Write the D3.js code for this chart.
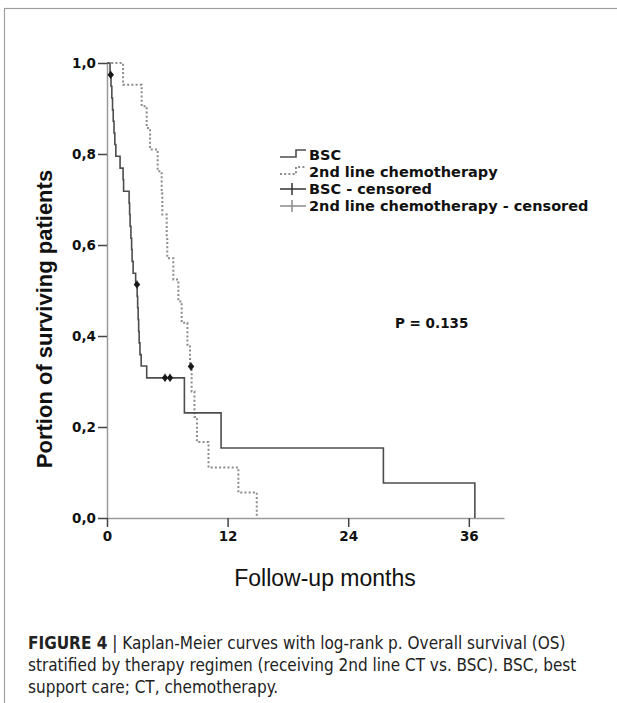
<!DOCTYPE html>
<html>
<head>
<meta charset="utf-8">
<script src="https://cdn.jsdelivr.net/npm/d3@7"></script>
<style>
  body { margin: 0; background: #fff; }
  svg { display: block; }
</style>
</head>
<body>
<svg id="km" width="617" height="703"></svg>
<script>
// Kaplan-Meier steps (months, survival)
var bscTime = [0, 0.3, 0.4, 0.48, 0.55, 0.62, 0.7, 0.78, 0.88, 1.3, 1.6, 1.65, 2.2, 2.25, 2.3, 2.38, 2.45, 2.5, 2.6, 2.85,
               3.0, 3.05, 3.1, 3.15, 3.2, 3.28, 3.4, 3.95, 7.7, 11.35, 27.5, 36.6];
var bscSurv = [1.0, 0.974, 0.949, 0.923, 0.897, 0.872, 0.846, 0.821, 0.795, 0.769, 0.744, 0.718, 0.692, 0.667, 0.641, 0.615, 0.590, 0.564, 0.538, 0.513,
               0.487, 0.462, 0.436, 0.410, 0.385, 0.359, 0.334, 0.308, 0.231, 0.154, 0.077, 0];
var bscCensored = [0.37, 2.98, 5.77, 6.27];

var ctTime = [0, 1.6, 3.45, 3.95, 4.28, 5.04, 5.44, 5.5, 5.94, 6.0, 6.6, 7.1, 7.43, 8.0, 8.26, 8.42, 8.7, 8.95, 10.1, 13.07, 14.9];
var ctSurv = [1.0, 0.952, 0.905, 0.857, 0.810, 0.762, 0.714, 0.667, 0.619, 0.571, 0.524, 0.476, 0.429, 0.381, 0.333, 0.278, 0.222, 0.167, 0.111, 0.056, 0];
var ctCensored = [8.36];

var xTicks = [0, 12, 24, 36];
var yTicks = [0, 0.2, 0.4, 0.6, 0.8, 1.0];
var legendLabels = ["BSC", "2nd line chemotherapy", "BSC - censored", "2nd line chemotherapy - censored"];
var pLabel = "P = 0.135";
var xTitle = "Follow-up months";
var yTitle = "Portion of surviving patients";
var captionBold = "FIGURE 4";
var captionLines = [
  " | Kaplan-Meier curves with log-rank p. Overall survival (OS)",
  "stratified by therapy regimen (receiving 2nd line CT vs. BSC). BSC, best",
  "support care; CT, chemotherapy."
];

var svg = d3.select("#km");
var tickFont = "'DejaVu Sans', Verdana, sans-serif";

// frame round the figure
svg.append("rect")
  .attr("x", 4.5).attr("y", 8.5)
  .attr("width", 700).attr("height", 800)
  .attr("fill", "none").attr("stroke", "#a0a0a0").attr("stroke-width", 1.2);

var x = d3.scaleLinear().domain([0, 39.5]).range([107, 504]);
var y = d3.scaleLinear().domain([0, 1]).range([518, 63]);

var toPoints = function (ts, ss) {
  return ts.map(function (t, i) { return [t, ss[i]]; });
};
var survAt = function (ts, ss, t) {
  var i = d3.bisectRight(ts, t) - 1;
  return ss[Math.max(0, i)];
};

// axes
var yAxis = svg.append("g")
  .attr("transform", "translate(" + x(0) + ",0)")
  .call(d3.axisLeft(y).tickValues(yTicks).tickSize(9).tickSizeOuter(0)
    .tickFormat(function (d) { return d3.format(".1f")(d).replace(".", ","); }));

var xAxis = svg.append("g")
  .attr("transform", "translate(0," + y(0) + ")")
  .call(d3.axisBottom(x).tickValues(xTicks).tickSize(9).tickSizeOuter(0));

[yAxis, xAxis].forEach(function (ax) {
  ax.select(".domain").attr("stroke", "#9a9a9a").attr("stroke-width", 1.5);
  ax.selectAll(".tick line").attr("stroke", "#444").attr("stroke-width", 1.5);
  ax.selectAll(".tick text")
    .attr("fill", "#111")
    .style("font-family", tickFont)
    .style("font-weight", "bold")
    .style("font-size", "13.5px");
});
yAxis.selectAll(".tick text").attr("x", -11);
xAxis.selectAll(".tick text").attr("y", 13);

// curves
var step = d3.line()
  .x(function (d) { return x(d[0]); })
  .y(function (d) { return y(d[1]); })
  .curve(d3.curveStepAfter);

svg.append("path")
  .datum(toPoints(ctTime, ctSurv))
  .attr("d", step)
  .attr("fill", "none")
  .attr("stroke", "#8c8c8c")
  .attr("stroke-width", 2)
  .attr("stroke-dasharray", "2,2.2");

svg.append("path")
  .datum(toPoints(bscTime, bscSurv))
  .attr("d", step)
  .attr("fill", "none")
  .attr("stroke", "#4d4d4d")
  .attr("stroke-width", 1.6);

// censor marks
var mark = function (cx, cy) {
  return "M" + cx + "," + (cy - 4) + "V" + (cy + 4) +
    "M" + (cx - 2.5) + "," + cy + "L" + cx + "," + (cy - 3) + "L" + (cx + 2.5) + "," + cy + "L" + cx + "," + (cy + 3) + "Z";
};
var censorData = bscCensored.map(function (t) { return [t, survAt(bscTime, bscSurv, t)]; })
  .concat(ctCensored.map(function (t) { return [t, survAt(ctTime, ctSurv, t)]; }));

svg.selectAll("path.censor")
  .data(censorData)
  .enter()
  .append("path")
  .attr("class", "censor")
  .attr("d", function (d) { return mark(x(d[0]), y(d[1])); })
  .attr("fill", "#1a1a1a")
  .attr("stroke", "#1a1a1a")
  .attr("stroke-width", 1.2);

// legend
var lg = svg.append("g").attr("transform", "translate(280,0)");
var rowY = [155, 172, 189, 206];

lg.append("path").attr("d", "M0," + (rowY[0] + 2) + "H16V" + (rowY[0] - 5) + "H26")
  .attr("fill", "none").attr("stroke", "#4d4d4d").attr("stroke-width", 1.6);
lg.append("path").attr("d", "M0," + (rowY[1] + 2) + "H16V" + (rowY[1] - 5) + "H26")
  .attr("fill", "none").attr("stroke", "#8c8c8c").attr("stroke-width", 2).attr("stroke-dasharray", "2,2.2");
[["#333", rowY[2]], ["#8c8c8c", rowY[3]]].forEach(function (c) {
  lg.append("path").attr("d", "M0," + c[1] + "H26M12," + (c[1] - 6) + "V" + (c[1] + 6))
    .attr("fill", "none").attr("stroke", c[0]).attr("stroke-width", 1.5);
});

lg.selectAll("text.legend")
  .data(legendLabels)
  .enter()
  .append("text")
  .attr("class", "legend")
  .attr("x", 29)
  .attr("y", function (d, i) { return rowY[i] + 5; })
  .attr("fill", "#111")
  .style("font-family", tickFont)
  .style("font-weight", "bold")
  .style("font-size", "14.5px")
  .text(function (d) { return d; });

svg.append("text")
  .attr("x", 395).attr("y", 328)
  .attr("fill", "#111")
  .style("font-family", tickFont)
  .style("font-weight", "bold")
  .style("font-size", "13.5px")
  .text(pLabel);

// axis titles
svg.append("text")
  .attr("transform", "translate(52,319) rotate(-90)")
  .attr("text-anchor", "middle")
  .attr("fill", "#111")
  .style("font-family", "'Liberation Sans', Arial, sans-serif")
  .style("font-weight", "bold")
  .style("font-size", "22px")
  .text(yTitle);

svg.append("text")
  .attr("x", 325).attr("y", 586)
  .attr("text-anchor", "middle")
  .attr("fill", "#111")
  .style("font-family", "'Liberation Sans', Arial, sans-serif")
  .style("font-size", "23px")
  .text(xTitle);

// caption
var cap = svg.append("g")
  .style("font-family", "'DejaVu Sans Condensed', 'DejaVu Sans', sans-serif")
  .style("font-stretch", "condensed")
  .style("font-size", "17px")
  .attr("fill", "#222");

var line1 = cap.append("text").attr("x", 28).attr("y", 649);
line1.append("tspan").style("font-weight", "bold").text(captionBold);
line1.append("tspan").text(captionLines[0]);
cap.append("text").attr("x", 28).attr("y", 671).text(captionLines[1]);
cap.append("text").attr("x", 28).attr("y", 693).text(captionLines[2]);
</script>
</body>
</html>
